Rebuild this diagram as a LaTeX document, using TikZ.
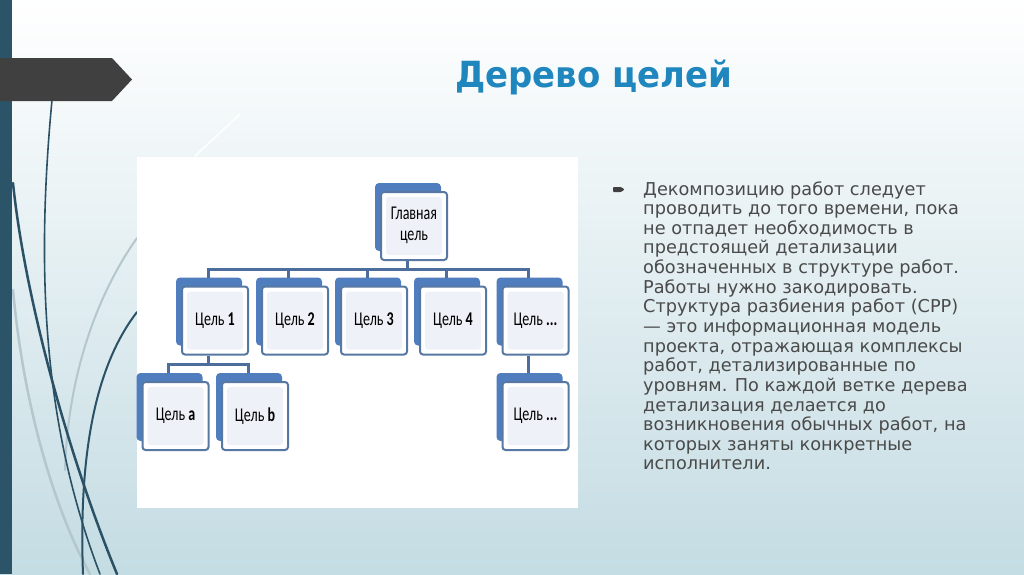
\documentclass[tikz,border=0pt]{standalone}
\usepackage{fontspec}
\newfontfamily\bodyfont{DejaVu Sans}
\newfontfamily\boxfont{Carlito}
\definecolor{bgbot}{HTML}{C4DCE3}
\definecolor{barc}{HTML}{2C5469}
\definecolor{bannerc}{HTML}{404040}
\definecolor{curvec}{HTML}{2A5165}
\definecolor{lightc}{HTML}{B4C7CD}
\definecolor{titlec}{HTML}{1F86BE}
\definecolor{textc}{HTML}{4A4A4A}
\definecolor{backc}{HTML}{4F7DBD}
\definecolor{linec}{HTML}{5878A4}
\definecolor{connc}{HTML}{4D6E9C}
\definecolor{innerc}{HTML}{EEF2F8}
\newcommand\goalnode[4]{%
  \fill[backbox] (#2-39,#3-43) rectangle (#2+27,#3+25);
  \node[goal] (#1) at (#2,#3) {\scalebox{0.72}[1]{#4}};}
\begin{document}
\begin{tikzpicture}[x=1pt,y=-1pt,
  backbox/.style={fill=backc, rounded corners=4pt},
  goal/.style={draw=linec, line width=2pt, fill=white, rounded corners=3pt,
    minimum width=66pt, minimum height=68pt, inner sep=0pt, align=center,
    font=\boxfont\fontsize{19.5}{22}\selectfont,
    path picture={\fill[innerc] ([xshift=5pt,yshift=-5pt]path picture bounding box.north west) rectangle ([xshift=-5pt,yshift=5pt]path picture bounding box.south east);}},
  conn/.style={draw=connc, line width=3pt},
  body/.style={font=\bodyfont\fontsize{17.7}{20}\selectfont, text=textc, inner sep=0pt, anchor=base west},
  title/.style={font=\bodyfont\bfseries\fontsize{36}{40}\selectfont, text=titlec, inner sep=0pt, anchor=base},
  dark/.style={draw=curvec, line cap=round},
  light/.style={draw=lightc, line cap=round}
]
\useasboundingbox (0,0) rectangle (1024,574);
\shade[top color=white, bottom color=bgbot] (0,0) rectangle (1024,574);
% decorative curves
\draw[light, line width=2.5pt] (13,290) .. controls (25,420) and (60,520) .. (90,574);
\draw[light, line width=2pt] (137,238) .. controls (100,290) and (68,370) .. (65,470);
\draw[white, line width=1.5pt] (195,156) -- (240,114);
\draw[dark, line width=2.5pt] (13,183) .. controls (25,300) and (70,460) .. (117,574);
\draw[dark, line width=1.6pt] (52,100) .. controls (35,280) and (45,430) .. (100,574);
\draw[dark, line width=2pt] (137,312) .. controls (100,360) and (78,440) .. (83,574);
% left bar and banner
\fill[barc] (0,0) rectangle (12,574);
\fill[bannerc] (0,58) -- (112,58) -- (132,79.5) -- (112,101) -- (0,101) -- cycle;
% title
\node[title] (title) at (593.5,87) {\resizebox{277pt}{\height}{Дерево целей}};
% picture panel
\fill[white] (137,157) rectangle (578,508);
% tree
\goalnode{main}{414}{226}{\begin{tabular}{@{}c@{}}Главная\\[-1pt]цель\end{tabular}}
\goalnode{c1}{215}{320.5}{Цель \textbf{1}}
\goalnode{c2}{295}{320.5}{Цель \textbf{2}}
\goalnode{c3}{374}{320.5}{Цель \textbf{3}}
\goalnode{c4}{453}{320.5}{Цель \textbf{4}}
\goalnode{c5}{535.5}{320.5}{Цель \textbf{...}}
\goalnode{ca}{175.5}{416}{Цель \textbf{a}}
\goalnode{cb}{255}{416}{Цель \textbf{b}}
\goalnode{c5a}{535.5}{416}{Цель \textbf{...}}
\foreach \c in {c1,c2,c3,c4,c5}
  \draw[conn] ([xshift=-7pt]main.south) -- ++(0,8) -| ([xshift=-7pt,yshift=8pt]\c.north);
\foreach \c in {ca,cb}
  \draw[conn] ([xshift=-7pt]c1.south) -- ++(0,9) -| ([xshift=-7pt,yshift=8pt]\c.north);
\draw[conn] ([xshift=-7pt]c5.south) -- ([xshift=-7pt,yshift=8pt]c5a.north);
% bullet
\fill[bannerc, rounded corners=0.8pt] (613,187) -- (621,187) -- (624.5,189.5) -- (621,192) -- (613,192) -- cycle;
% text
\foreach \t [count=\i] in {
  {Декомпозицию работ следует},
  {проводить до того времени, пока},
  {не отпадет необходимость в},
  {предстоящей детализации},
  {обозначенных в структуре работ.},
  {Работы нужно закодировать.},
  {Структура разбиения работ (СРР)},
  {— это информационная модель},
  {проекта, отражающая комплексы},
  {работ, детализированные по},
  {уровням. По каждой ветке дерева},
  {детализация делается до},
  {возникновения обычных работ, на},
  {которых заняты конкретные},
  {исполнители.}}
  \node[body] (l\i) at (643,{195+(\i-1)*19.64}) {\t};
\end{tikzpicture}
\end{document}
